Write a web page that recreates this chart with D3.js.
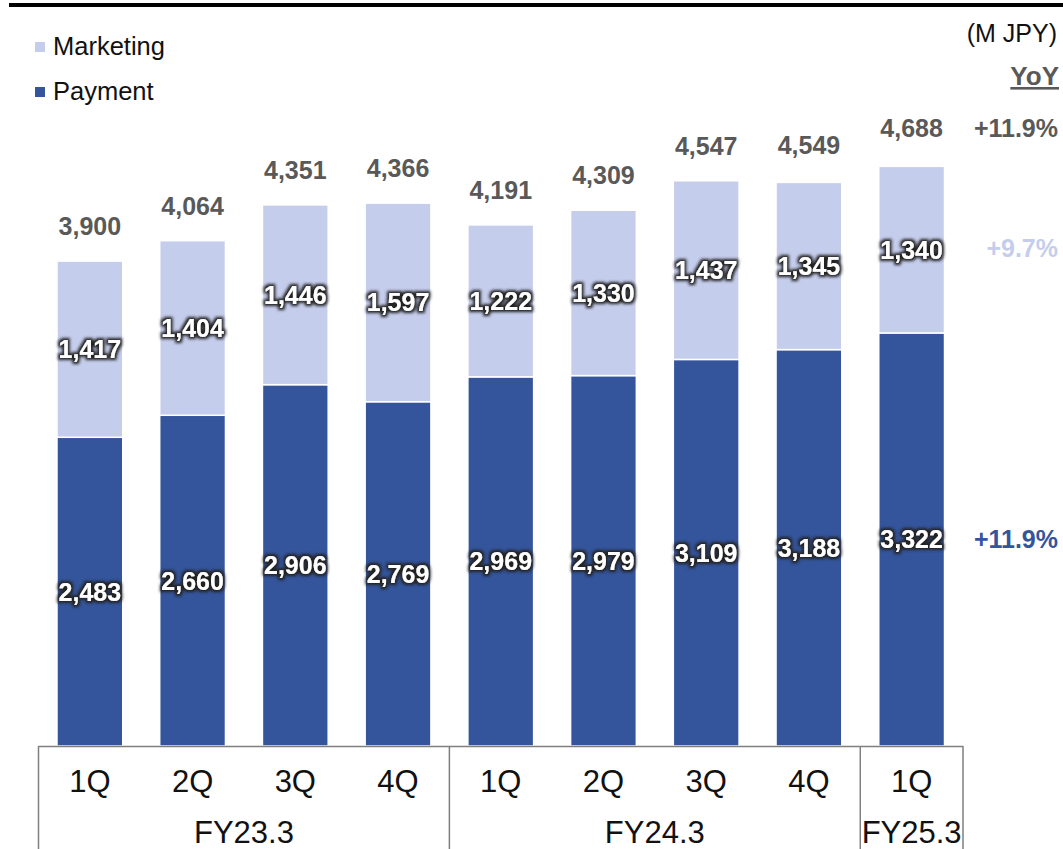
<!DOCTYPE html>
<html>
<head>
<meta charset="utf-8">
<script src="https://cdn.jsdelivr.net/npm/d3@7"></script>
<style>
  html, body { margin: 0; padding: 0; background: #fff; }
  svg { display: block; }
  text { font-family: "Liberation Sans", Arial, sans-serif; }
</style>
</head>
<body>
<svg id="chart" width="1063" height="849"></svg>
<script>
// Quarterly revenue by segment (M JPY)
const quarters   = ["1Q", "2Q", "3Q", "4Q", "1Q", "2Q", "3Q", "4Q", "1Q"];
const fiscalYears = ["FY23.3", "FY23.3", "FY23.3", "FY23.3", "FY24.3", "FY24.3", "FY24.3", "FY24.3", "FY25.3"];
const payment    = [2483, 2660, 2906, 2769, 2969, 2979, 3109, 3188, 3322];
const marketing  = [1417, 1404, 1446, 1597, 1222, 1330, 1437, 1345, 1340];
const totals     = [3900, 4064, 4351, 4366, 4191, 4309, 4547, 4549, 4688];
const yoyLabels  = ["+11.9%", "+9.7%", "+11.9%"]; // total, marketing, payment
const groupNames = ["FY23.3", "FY24.3", "FY25.3"];

const colPayment = "#34559c";
const colMarketing = "#c5cdec";
const colGray = "#595959";

const svg = d3.select("#chart");

// Filter: dark soft outline behind white value labels
const defs = svg.append("defs");
const f = defs.append("filter").attr("id", "glow")
  .attr("x", "-20%").attr("y", "-40%").attr("width", "140%").attr("height", "180%");
f.append("feMorphology").attr("in", "SourceAlpha").attr("operator", "dilate").attr("radius", 1.5).attr("result", "d");
f.append("feGaussianBlur").attr("in", "d").attr("stdDeviation", 1.5).attr("result", "b");
f.append("feFlood").attr("flood-color", "#222").attr("flood-opacity", 1).attr("result", "c");
f.append("feComposite").attr("in", "c").attr("in2", "b").attr("operator", "in").attr("result", "s");
const m = f.append("feMerge");
m.append("feMergeNode").attr("in", "s");
m.append("feMergeNode").attr("in", "SourceGraphic");

// Top rule
svg.append("rect").attr("x", 9).attr("y", 3).attr("width", 1054).attr("height", 4).attr("fill", "#000");

const idx = d3.range(quarters.length);
const x = d3.scaleBand().domain(idx).range([38.5, 963]).paddingInner(0.36).paddingOuter(0.18);
const y = d3.scaleLinear().domain([0, 6000]).range([746, 0]);

const data = idx.map(i => ({ i, payment: payment[i], marketing: marketing[i] }));
const stack = d3.stack().keys(["payment", "marketing"])(data);
const colors = { payment: colPayment, marketing: colMarketing };

// Bars
svg.append("g").selectAll("g").data(stack).join("g")
  .attr("fill", d => colors[d.key])
  .selectAll("rect").data(d => d).join("rect")
  .attr("x", d => x(d.data.i))
  .attr("y", d => y(d[1]))
  .attr("width", x.bandwidth())
  .attr("height", d => y(d[0]) - y(d[1]))
  .attr("stroke", "#fff").attr("stroke-width", 1.5);

// Segment value labels
svg.append("g").selectAll("g").data(stack).join("g")
  .selectAll("text").data(d => d).join("text")
  .attr("x", d => x(d.data.i) + x.bandwidth() / 2)
  .attr("y", d => (y(d[0]) + y(d[1])) / 2)
  .attr("dy", "0.36em")
  .attr("text-anchor", "middle")
  .attr("fill", "#fff")
  .attr("font-weight", "bold")
  .attr("font-size", 25)
  .attr("filter", "url(#glow)")
  .text(d => d3.format(",")(d[1] - d[0]));

// Totals
svg.append("g").selectAll("text").data(idx).join("text")
  .attr("x", i => x(i) + x.bandwidth() / 2)
  .attr("y", i => y(totals[i]) - 26)
  .attr("text-anchor", "middle")
  .attr("fill", colGray)
  .attr("font-weight", "bold")
  .attr("font-size", 25)
  .text(i => d3.format(",")(totals[i]));

// YoY column for the latest quarter
const last = idx.length - 1;
const yoyY = [
  y(totals[last]) - 26,
  (y(payment[last]) + y(totals[last])) / 2,
  (y(0) + y(payment[last])) / 2
];
const yoyColors = [colGray, colMarketing, colPayment];
const yoyDy = ["0", "0.36em", "0.36em"];
svg.append("g").selectAll("text").data(yoyLabels).join("text")
  .attr("x", 1058)
  .attr("y", (d, k) => yoyY[k])
  .attr("dy", (d, k) => yoyDy[k])
  .attr("text-anchor", "end")
  .attr("fill", (d, k) => yoyColors[k])
  .attr("font-weight", "bold")
  .attr("font-size", 25)
  .text(d => d);

svg.append("text").attr("x", 1057).attr("y", 42).attr("text-anchor", "end")
  .attr("font-size", 25).attr("fill", "#111").text("(M JPY)");
svg.append("text").attr("x", 1059).attr("y", 85).attr("text-anchor", "end")
  .attr("font-size", 26).attr("font-weight", "bold").attr("fill", colGray)
  .attr("text-decoration", "underline").text("YoY");

// Legend
const legend = [["Marketing", colMarketing], ["Payment", colPayment]];
const lg = svg.append("g").selectAll("g").data(legend).join("g")
  .attr("transform", (d, k) => `translate(35, ${42 + k * 45})`);
lg.append("rect").attr("width", 10).attr("height", 10).attr("fill", d => d[1]);
lg.append("text").attr("x", 18).attr("y", 13).attr("font-size", 25.5).attr("fill", "#111").text(d => d[0]);

// Category axis with quarter and fiscal-year rows
const axisCol = "#7f7f7f";
const axisFont = "'Liberation Sans Narrow', 'Arial Narrow', 'Liberation Sans', sans-serif";
const ax = svg.append("g");
ax.append("line").attr("x1", 38.5).attr("x2", 963).attr("y1", 746.5).attr("y2", 746.5)
  .attr("stroke", axisCol).attr("stroke-width", 1.5);
const step = x.step();
const x0 = x.range()[0];
const groups = groupNames.map(g => {
  const members = idx.filter(i => fiscalYears[i] === g);
  return { name: g, start: d3.min(members), end: d3.max(members) + 1 };
});
const bounds = [0].concat(groups.map(g => g.end));
ax.selectAll("line.sep").data(bounds).join("line").attr("class", "sep")
  .attr("x1", b => x0 + b * step).attr("x2", b => x0 + b * step)
  .attr("y1", 746).attr("y2", 849)
  .attr("stroke", axisCol).attr("stroke-width", 1.5);
ax.selectAll("text.q").data(idx).join("text").attr("class", "q")
  .attr("x", i => x(i) + x.bandwidth() / 2)
  .attr("y", 792)
  .attr("text-anchor", "middle")
  .attr("font-size", 31).attr("fill", "#111")
  .style("font-family", axisFont)
  .text(i => quarters[i]);
ax.selectAll("text.g").data(groups).join("text").attr("class", "g")
  .attr("x", g => x0 + (g.start + g.end) / 2 * step)
  .attr("y", 843)
  .attr("text-anchor", "middle")
  .attr("font-size", 31).attr("fill", "#111")
  .style("font-family", axisFont)
  .text(g => g.name);
</script>
</body>
</html>
